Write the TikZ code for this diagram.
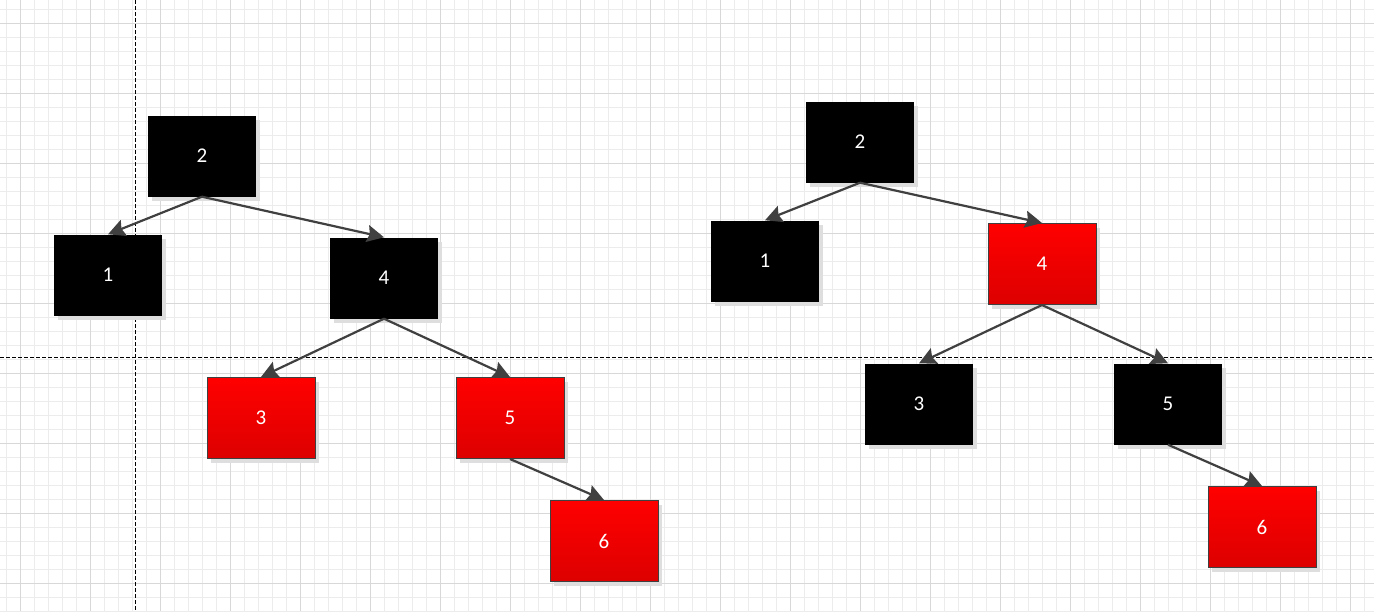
\documentclass[tikz,border=0pt]{standalone}
\usepackage{fontspec}
\setmainfont{Carlito}
\usetikzlibrary{arrows.meta}
\definecolor{minorgrid}{RGB}{236,236,236}
\definecolor{majorgrid}{RGB}{216,216,216}
\definecolor{edgegray}{RGB}{64,64,64}
\definecolor{shadowgray}{RGB}{222,222,222}
\definecolor{redtop}{RGB}{255,0,0}
\definecolor{redbot}{RGB}{221,0,0}
\tikzset{
  box/.style={minimum width=108pt,minimum height=81pt,inner sep=0pt,text=white,font=\fontsize{21}{21}\selectfont},
  blackbox/.style={box,fill=black},
  redbox/.style={box,draw=edgegray,line width=1pt,shading=axis,top color=redtop,bottom color=redbot},
  shadowbox/.style={fill=shadowgray,minimum width=108pt,minimum height=81pt,inner sep=0pt},
  link/.style={draw=edgegray,line width=2.2pt,-{Stealth[length=17pt,width=17pt,inset=2.5pt]}},
  guide/.style={draw=black,line width=0.8pt,dash pattern=on 4pt off 2pt},
}
\begin{document}
\begin{tikzpicture}[x=1pt,y=-1pt]
\useasboundingbox (0,0) rectangle (1374,611);
\fill[white] (0,0) rectangle (1374,611);
% minor grid
\foreach \i in {0,...,98} {\draw[minorgrid,line width=1pt] ({6.7+14*\i},0) -- ({6.7+14*\i},611);}
\foreach \i in {0,...,43} {\draw[minorgrid,line width=1pt] (0,{9.3+14*\i}) -- (1374,{9.3+14*\i});}
% major grid
\foreach \i in {0,...,19} {\draw[majorgrid,line width=1pt] ({20.7+70*\i},0) -- ({20.7+70*\i},611);}
\foreach \i in {0,...,8} {\draw[majorgrid,line width=1pt] (0,{23.3+70*\i}) -- (1374,{23.3+70*\i});}
% guides
\coordinate (vtop) at (135.5,0);
\coordinate (vbot) at (135.5,611);
\coordinate (hleft) at (0,357.5);
\coordinate (hright) at (1374,357.5);
\draw[guide] (vtop) -- (vbot);
\draw[guide] (hleft) -- (hright);
% shadows
\foreach \px/\py [count=\k] in {202/156,108/275,384/278,261/418,510/418,604/541,860/142,765/261,1042/264,919/404,1168/404,1262/527} {
  \node[shadowbox] (sh\k) at ({\px+4},{\py+4}) {};
}
% left tree
\node[blackbox] (La) at (202,156) {2};
\node[blackbox] (Lb) at (108,275) {1};
\node[blackbox] (Lc) at (384,278) {4};
\node[redbox] (Ld) at (261,418) {3};
\node[redbox] (Le) at (510,418) {5};
\node[redbox] (Lf) at (604,541) {6};
% right tree
\node[blackbox] (Ra) at (860,142) {2};
\node[blackbox] (Rb) at (765,261) {1};
\node[redbox] (Rc) at (1042,264) {4};
\node[blackbox] (Rd) at (919,404) {3};
\node[blackbox] (Re) at (1168,404) {5};
\node[redbox] (Rf) at (1262,527) {6};
% connectors
\draw[link] (La.south) -- (Lb.north);
\draw[link] (La.south) -- (Lc.north);
\draw[link] (Lc.south) -- (Ld.north);
\draw[link] (Lc.south) -- (Le.north);
\draw[link] (Le.south) -- (Lf.north);
\draw[link] (Ra.south) -- (Rb.north);
\draw[link] (Ra.south) -- (Rc.north);
\draw[link] (Rc.south) -- (Rd.north);
\draw[link] (Rc.south) -- (Re.north);
\draw[link] (Re.south) -- (Rf.north);
\end{tikzpicture}
\end{document}
